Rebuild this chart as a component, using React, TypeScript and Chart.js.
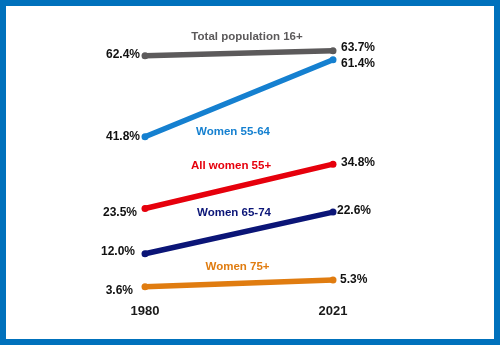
import React, { useEffect, useRef } from 'react';
import { Chart, registerables } from 'chart.js';

Chart.register(...registerables);

const years = ['1980', '2021'];
const seriesNames = ['Total population 16+', 'Women 55-64', 'All women 55+', 'Women 65-74', 'Women 75+'];
const total16 = [62.4, 63.7];
const women5564 = [41.8, 61.4];
const allWomen55 = [23.5, 34.8];
const women6574 = [12.0, 22.6];
const women75 = [3.6, 5.3];
const seriesValues = [total16, women5564, allWomen55, women6574, women75];

// styling
const colors = ['#5c5a5b', '#1580d0', '#e6000c', '#0b1577', '#e07c10'];
const nameOffsets = [[8, -16.5], [-6, 33.7], [-8, -20.5], [-5, -20.5], [-1.5, -17]];
const leftValueOffsets = [[-5, -1], [-5, 0], [-8, 4], [-10, -2], [-12, 3.6]];
const rightValueOffsets = [[8, -3], [8, 4], [8, -1.5], [4, -1.7], [7, 0]];

const FONT = '"Liberation Sans", Arial, sans-serif';

const labelPlugin = {
  id: 'slopeLabels',
  afterDatasetsDraw(chart: any) {
    const ctx = chart.ctx;
    ctx.save();
    ctx.textBaseline = 'middle';
    chart.data.datasets.forEach((ds: any, i: number) => {
      const meta = chart.getDatasetMeta(i);
      const p0 = meta.data[0];
      const p1 = meta.data[1];
      ctx.font = `bold 12px ${FONT}`;
      ctx.fillStyle = '#111111';
      ctx.textAlign = 'right';
      ctx.fillText(ds.data[0].toFixed(1) + '%', p0.x + leftValueOffsets[i][0], p0.y + leftValueOffsets[i][1]);
      ctx.textAlign = 'left';
      ctx.fillText(ds.data[1].toFixed(1) + '%', p1.x + rightValueOffsets[i][0], p1.y + rightValueOffsets[i][1]);
      ctx.font = `bold 11.5px ${FONT}`;
      ctx.fillStyle = colors[i];
      ctx.textAlign = 'center';
      const mx = (p0.x + p1.x) / 2;
      const my = (p0.y + p1.y) / 2;
      ctx.fillText(ds.label, mx + nameOffsets[i][0], my + nameOffsets[i][1]);
    });
    ctx.restore();
  },
};

export default function App() {
  const ref = useRef<HTMLCanvasElement | null>(null);
  useEffect(() => {
    if (!ref.current) return;
    const chart = new Chart(ref.current, {
      type: 'line',
      data: {
        labels: years,
        datasets: seriesValues.map((vals, i) => ({
          label: seriesNames[i],
          data: vals,
          borderColor: colors[i],
          backgroundColor: colors[i],
          borderWidth: 5.5,
          pointRadius: 3.5,
          pointBorderWidth: 0,
          pointBackgroundColor: colors[i],
          borderCapStyle: 'round',
          fill: false,
          tension: 0,
        })),
      },
      options: {
        animation: false,
        responsive: false,
        devicePixelRatio: 1,
        layout: { padding: { left: 139, right: 161, top: 20, bottom: 16.6 } },
        plugins: { legend: { display: false }, tooltip: { enabled: false } },
        scales: {
          x: {
            type: 'category',
            offset: false,
            grid: { display: false, drawTicks: false },
            border: { display: false },
            ticks: {
              padding: 3,
              color: '#1a1a1a',
              font: { family: FONT, size: 13, weight: 'bold' },
              maxRotation: 0,
              autoSkip: false,
            },
          },
          y: {
            display: false,
            min: 0,
            max: 70,
          },
        },
      },
      plugins: [labelPlugin],
    } as any);
    return () => chart.destroy();
  }, []);
  return (
    <div
      style={{
        position: 'absolute',
        left: 0,
        top: 0,
        width: 500,
        height: 345,
        boxSizing: 'border-box',
        border: '6px solid #0071bc',
        background: '#ffffff',
      }}
    >
      <canvas ref={ref} width={488} height={333} style={{ display: 'block', width: 488, height: 333 }} />
    </div>
  );
}
